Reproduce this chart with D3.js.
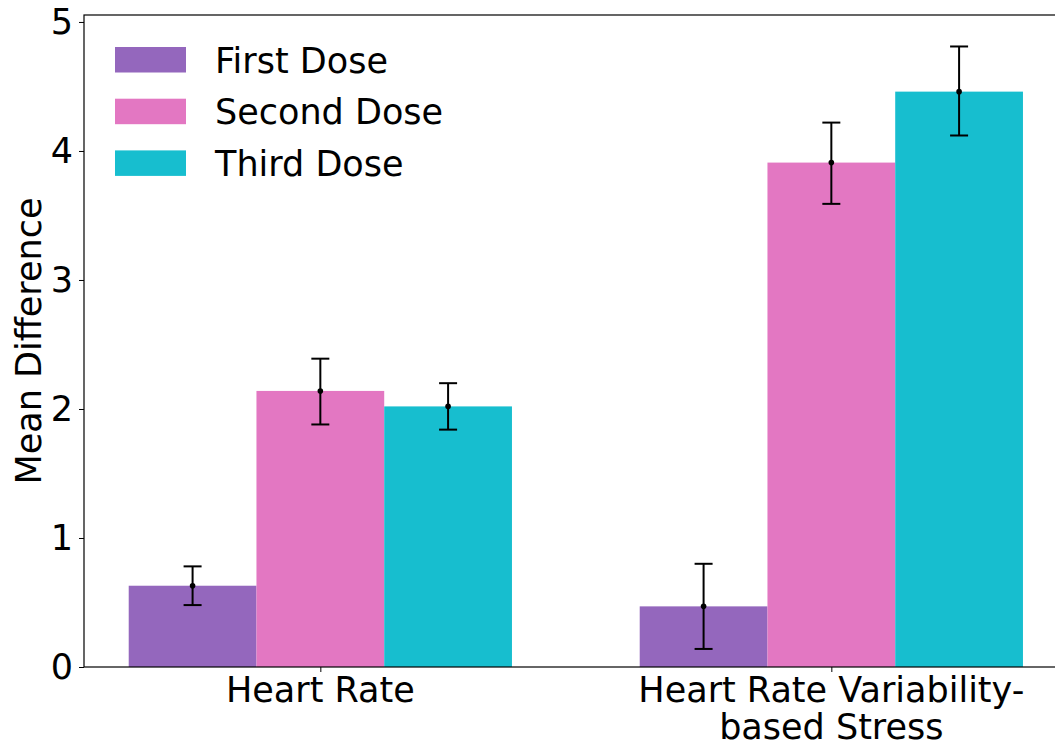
<!DOCTYPE html>
<html>
<head>
<meta charset="utf-8">
<script src="https://cdn.jsdelivr.net/npm/d3@7"></script>
<style>
  body { margin: 0; background: #fff; }
  svg { font-family: "DejaVu Sans", sans-serif; }
</style>
</head>
<body>
<div id="chart"></div>
<script>
var width = 1055, height = 746;

// data
var categories = [["Heart Rate"], ["Heart Rate Variability-", "based Stress"]];
var doses = ["First Dose", "Second Dose", "Third Dose"];
var colors = ["#9467bd", "#e377c2", "#17becf"];
var means = [
    [0.63, 0.47],   // first dose
    [2.14, 3.91],   // second dose
    [2.02, 4.46]    // third dose
];
var errLow = [
    [0.48, 0.14],
    [1.88, 3.59],
    [1.84, 4.12]
];
var errHigh = [
    [0.78, 0.80],
    [2.39, 4.22],
    [2.20, 4.81]
];
var yTicks = [0, 1, 2, 3, 4, 5];

var margin = {left: 84, top: 15, bottom: 79};
var barW = 0.25;
var fs = 35;

var svg = d3.select("#chart").append("svg")
    .attr("width", width)
    .attr("height", height);

// x in group units, matplotlib-like margins
var x = d3.scaleLinear()
    .domain([-0.4625, 1.4625])
    .range([margin.left, margin.left + 1.925 * 511]);

var y = d3.scaleLinear()
    .domain([0, 5.054])
    .range([height - margin.bottom, margin.top]);

var plot = svg.append("g");

// bars
doses.forEach(function (dose, i) {
    var off = (i - 1) * barW;
    plot.append("g").selectAll("rect")
        .data(means[i])
        .enter().append("rect")
        .attr("x", function (d, j) { return x(j + off - barW / 2); })
        .attr("width", x(barW) - x(0))
        .attr("y", function (d) { return y(d); })
        .attr("height", function (d) { return y(0) - y(d); })
        .attr("fill", colors[i]);
});

// error bars
doses.forEach(function (dose, i) {
    var off = (i - 1) * barW;
    var g = plot.append("g").attr("stroke", "#000").attr("stroke-width", 2);
    means[i].forEach(function (m, j) {
        var cx = x(j + off);
        g.append("line")
            .attr("x1", cx).attr("x2", cx)
            .attr("y1", y(errLow[i][j])).attr("y2", y(errHigh[i][j]));
        [errLow[i][j], errHigh[i][j]].forEach(function (v) {
            g.append("line")
                .attr("x1", cx - 9).attr("x2", cx + 9)
                .attr("y1", y(v)).attr("y2", y(v));
        });
        plot.append("circle")
            .attr("cx", cx).attr("cy", y(m))
            .attr("r", 2.8)
            .attr("fill", "#000");
    });
});

// frame
var x0 = x.range()[0], x1 = x.range()[1], y0 = y.range()[0], y1 = y.range()[1];
svg.append("rect")
    .attr("x", x0).attr("y", y1)
    .attr("width", x1 - x0).attr("height", y0 - y1)
    .attr("fill", "none")
    .attr("stroke", "#000")
    .attr("stroke-width", 1.2);

// y axis
var yAxis = svg.append("g")
    .attr("transform", "translate(" + x0 + ",0)")
    .call(d3.axisLeft(y).tickValues(yTicks).tickSize(5).tickPadding(6).tickFormat(d3.format("d")));
yAxis.select(".domain").remove();
yAxis.selectAll("text").attr("font-size", fs).attr("fill", "#000")
    .attr("font-family", "DejaVu Sans");

// x axis
var xAxis = svg.append("g")
    .attr("transform", "translate(0," + y0 + ")")
    .call(d3.axisBottom(x).tickValues([0, 1]).tickSize(5).tickFormat(""));
xAxis.select(".domain").remove();

categories.forEach(function (lines, j) {
    var t = svg.append("text")
        .attr("x", x(j))
        .attr("y", y0 + 35)
        .attr("text-anchor", "middle")
        .attr("font-size", fs)
        .attr("fill", "#000");
    lines.forEach(function (ln, k) {
        t.append("tspan")
            .attr("x", x(j))
            .attr("dy", k === 0 ? 0 : 37)
            .text(ln);
    });
});

// y label
svg.append("text")
    .attr("transform", "translate(41," + (y1 + y0) / 2 + ") rotate(-90)")
    .attr("text-anchor", "middle")
    .attr("font-size", fs)
    .attr("fill", "#000")
    .text("Mean Difference");

// legend
var legend = svg.append("g");
doses.forEach(function (dose, i) {
    var ly = 47 + i * 51.7;
    legend.append("rect")
        .attr("x", 115).attr("y", ly)
        .attr("width", 71).attr("height", 25.5)
        .attr("fill", colors[i]);
    legend.append("text")
        .attr("x", 215).attr("y", ly + 25.5)
        .attr("font-size", fs)
        .attr("fill", "#000")
        .text(dose);
});
</script>
</body>
</html>
